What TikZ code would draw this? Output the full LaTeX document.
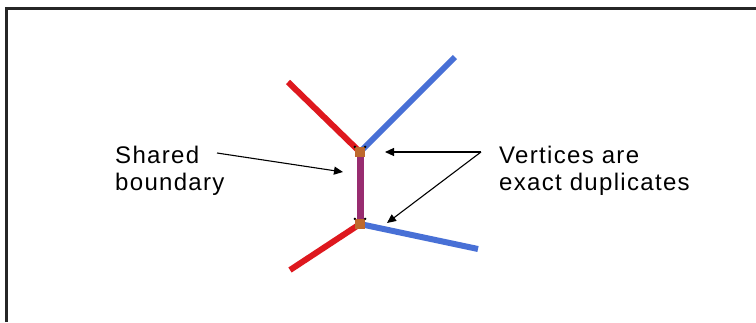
\documentclass[tikz,border=0pt]{standalone}
\usepackage{fontspec}
\setmainfont{Liberation Sans}
\newfontfamily\labelfont[LetterSpace=5.5]{Liberation Sans}
\usetikzlibrary{arrows.meta}
\definecolor{edgered}{RGB}{222,24,30}
\definecolor{edgeblue}{RGB}{72,112,214}
\definecolor{edgepurple}{RGB}{152,44,112}
\definecolor{vertexorange}{RGB}{190,105,45}
\tikzset{
  frame/.style={line width=2.6pt, black!85},
  edge/.style={line width=6pt},
  shared/.style={line width=7pt, edgepurple},
  pointer/.style={line width=1.1pt, -{Triangle[length=9pt,width=8pt]}},
  label/.style={font=\labelfont\fontsize{24}{27}\selectfont, align=left, inner sep=0pt, anchor=north west},
  vbox/.style={fill=vertexorange, minimum width=10pt, minimum height=10pt, inner sep=0pt},
}
\begin{document}
\begin{tikzpicture}[x=1pt,y=-1pt]
\useasboundingbox[fill=white] (0,0) rectangle (756,322);
% frame
\draw[frame] (6.2,322) -- (6.2,8.7) -- (756,8.7);
% coordinates
\coordinate (v1) at (360,152);
\coordinate (v2) at (360,224);
\coordinate (r1) at (288,82);
\coordinate (b1) at (455,57);
\coordinate (r2) at (290,270);
\coordinate (b2) at (478,249);
% edges
\draw[edge, edgered] (r1) -- (v1);
\draw[edge, edgeblue] (v1) -- (b1);
\draw[edge, edgered] (r2) -- (v2);
\draw[edge, edgeblue] (v2) -- (b2);
\draw[shared] (v1) -- (v2);
% vertices
\node[vbox] (n1) at (v1) {};
\node[vbox] (n2) at (v2) {};
\foreach \n in {n1,n2}{
  \fill[black] (\n.north west) circle (1.3pt);
  \fill[black] (\n.north east) circle (1.3pt);
}
% labels
\node[label] (shl) at (115,146) {Shared\\boundary};
\node[label] (dul) at (499,146) {Vertices are\\exact duplicates};
% pointers
\coordinate (sa) at (217,153);
\coordinate (st) at (343,172);
\coordinate (da) at (481,152);
\coordinate (t1) at (385,152);
\coordinate (t2) at (387,223);
\draw[pointer] (sa) -- (st);
\draw[pointer] (da) -- (t1);
\draw[pointer] (da) -- (t2);
\end{tikzpicture}
\end{document}
